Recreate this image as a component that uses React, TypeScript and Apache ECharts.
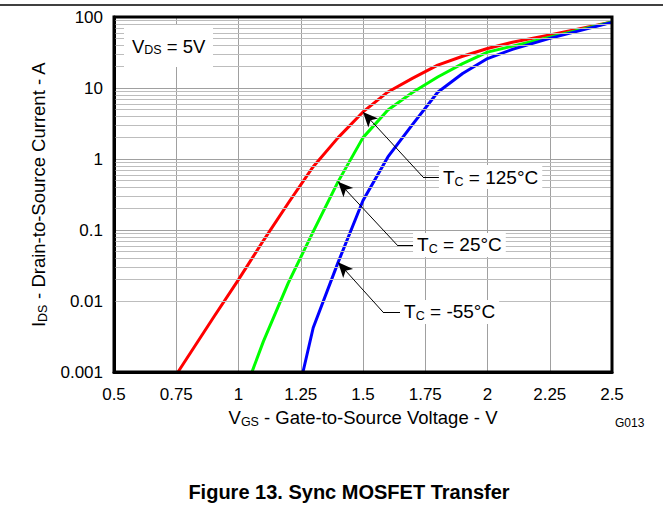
import React, { useEffect, useRef } from "react";
import * as echarts from "echarts";

// Data (V_GS in volts, I_DS in amperes)
const redV = [0.757, 0.9, 1.0, 1.1, 1.2, 1.3, 1.4, 1.5, 1.6, 1.7, 1.8, 1.9, 2.0, 2.1, 2.25, 2.4, 2.5];
const redI = [0.001, 0.0059, 0.02, 0.071, 0.24, 0.78, 2.0, 4.6, 8.8, 13.8, 21, 28, 36, 44, 56, 72, 85];

const greenV = [1.054, 1.1, 1.2, 1.3, 1.4, 1.5, 1.6, 1.7, 1.8, 1.9, 2.0, 2.25, 2.5];
const greenI = [0.001, 0.0027, 0.018, 0.095, 0.48, 2.0, 4.9, 8.7, 14.3, 22, 32, 52, 85];

const blueV = [1.259, 1.3, 1.4, 1.5, 1.6, 1.7, 1.8, 1.9, 2.0, 2.1, 2.25, 2.5];
const blueI = [0.001, 0.0042, 0.035, 0.26, 1.07, 3.1, 8.7, 16, 26, 35, 50, 84];

const yTickLabels = ["0.001", "0.01", "0.1", "1", "10", "100"];
const decades = [0.001, 0.01, 0.1, 1, 10];
const minorMultipliers = [2, 3, 4, 5, 6, 7, 8, 9];

// Annotation anchors (data coordinates): arrow tip, knee, label start
const ann125 = { tip: [1.5, 4.6], knee: [1.741, 0.557], end: [1.805, 0.557], label: "125°C" };
const ann25 = { tip: [1.4, 0.48], knee: [1.637, 0.0615], end: [1.701, 0.0615], label: "25°C" };
const annM55 = { tip: [1.4, 0.035], knee: [1.58, 0.007], end: [1.649, 0.007], label: "-55°C" };

const FONT = 'Arial, "Liberation Sans", sans-serif';

const zip = (xs: number[], ys: number[]) => xs.map((x, i) => [x, ys[i]]);

const makeRich = (size: number, sub: number) => ({
  t: { fontSize: size, fontFamily: FONT, color: "#000", lineHeight: size + 3, verticalAlign: "middle" },
  s: { fontSize: sub, fontFamily: FONT, color: "#000", lineHeight: sub, verticalAlign: "bottom" },
});

const nameRich = makeRich(18.5, 12.5);
const annRich = makeRich(19, 12.5);

function annotationLines(a: { tip: number[]; knee: number[]; end: number[]; label: string }) {
  return [
    [
      { coord: a.tip, symbol: "arrow", symbolSize: [10, 15], label: { show: false } },
      { coord: a.knee, symbol: "none" },
    ],
    [
      {
        coord: a.knee,
        symbol: "none",
        label: {
          show: true,
          position: "end",
          distance: 0,
          formatter: "{t|T}{s|C}{t| = " + a.label + "}",
          backgroundColor: "#fff",
          padding: [1, 4, 1, 4],
          rich: annRich,
        },
      },
      { coord: a.end, symbol: "none" },
    ],
  ];
}

export default function App() {
  const ref = useRef<HTMLDivElement>(null);

  useEffect(() => {
    if (!ref.current) return;
    const chart = echarts.init(ref.current, undefined, { renderer: "svg" });

    const minorData = decades.flatMap((d) => minorMultipliers.map((m) => ({ yAxis: d * m })));

    const curveSeries = (name: string, color: string, data: number[][]) => ({
      name,
      type: "line",
      data,
      showSymbol: false,
      symbol: "none",
      smooth: false,
      clip: true,
      z: 3,
      lineStyle: { color, width: 3 },
      silent: true,
    });

    chart.setOption({
      animation: false,
      backgroundColor: "#fff",
      textStyle: { fontFamily: FONT },
      grid: { left: 114, top: 17, width: 498, height: 355, containLabel: false },
      xAxis: {
        type: "value",
        min: 0.5,
        max: 2.5,
        interval: 0.25,
        axisLine: { show: true, lineStyle: { color: "#000", width: 3 } },
        axisTick: { show: false },
        axisLabel: {
          color: "#000",
          fontSize: 17,
          fontFamily: FONT,
          margin: 14,
          formatter: (v: number) => String(Number(v.toPrecision(6))),
        },
        splitLine: { show: true, lineStyle: { color: "#a0a0a0", width: 1 } },
        name: "{t|V}{s|GS}{t| - Gate-to-Source Voltage - V}",
        nameLocation: "middle",
        nameGap: 31,
        nameTextStyle: { rich: nameRich },
      },
      yAxis: {
        type: "log",
        logBase: 10,
        min: 0.001,
        max: 100,
        axisLine: { show: true, lineStyle: { color: "#000", width: 3 } },
        axisTick: { show: false },
        axisLabel: {
          color: "#000",
          fontSize: 17,
          fontFamily: FONT,
          margin: 11,
          formatter: (v: number) => {
            const idx = Math.round(Math.log10(v)) + 3;
            return yTickLabels[idx] ?? "";
          },
        },
        splitLine: { show: true, lineStyle: { color: "#a0a0a0", width: 1 } },
        minorTick: { show: false },
        name: "{t|I}{s|DS}{t| - Drain-to-Source Current - A}",
        nameLocation: "middle",
        nameGap: 60,
        nameTextStyle: { rich: nameRich },
      },
      series: [
        {
          name: "minor-grid",
          type: "line",
          data: [],
          z: 1,
          silent: true,
          markLine: {
            silent: true,
            symbol: ["none", "none"],
            label: { show: false },
            lineStyle: { color: "#bdbdbd", width: 1, type: "solid" },
            data: minorData,
          },
        },
        curveSeries("TC = 125°C", "#ff0000", zip(redV, redI)),
        curveSeries("TC = 25°C", "#00ff00", zip(greenV, greenI)),
        curveSeries("TC = -55°C", "#0000ff", zip(blueV, blueI)),
        {
          name: "annotations",
          type: "line",
          data: [],
          z: 5,
          silent: true,
          markLine: {
            silent: true,
            symbol: ["none", "none"],
            label: { show: false },
            lineStyle: { color: "#000", width: 1, type: "solid" },
            itemStyle: { color: "#000" },
            data: [...annotationLines(ann125), ...annotationLines(ann25), ...annotationLines(annM55)],
          },
        },
      ],
      graphic: [
        {
          type: "line",
          z: 10,
          shape: { x1: 0, y1: 5, x2: 663, y2: 5 },
          style: { stroke: "#000", lineWidth: 1.5 },
        },
        {
          type: "rect",
          z: 10,
          shape: { x: 114, y: 17, width: 498, height: 355 },
          style: { fill: "none", stroke: "#000", lineWidth: 3 },
        },
        {
          type: "rect",
          z: 8,
          shape: { x: 124, y: 25, width: 89, height: 42 },
          style: { fill: "#fff" },
        },
        {
          type: "text",
          z: 9,
          x: 132,
          y: 46,
          style: {
            text: "{t|V}{s|DS}{t| = 5V}",
            rich: nameRich,
            verticalAlign: "middle",
            align: "left",
          },
        },
        {
          type: "text",
          z: 9,
          x: 615,
          y: 423,
          style: { text: "G013", fontSize: 12, fontFamily: FONT, fill: "#000", verticalAlign: "middle", align: "left" },
        },
        {
          type: "text",
          z: 9,
          x: 349,
          y: 492,
          style: {
            text: "Figure 13. Sync MOSFET Transfer",
            fontSize: 20,
            fontWeight: "bold",
            fontFamily: FONT,
            fill: "#000",
            align: "center",
            verticalAlign: "middle",
          },
        },
      ],
    });

    return () => chart.dispose();
  }, []);

  return (
    <div
      ref={ref}
      style={{ position: "fixed", left: 0, top: 0, width: 663, height: 508, background: "#fff" }}
    />
  );
}
